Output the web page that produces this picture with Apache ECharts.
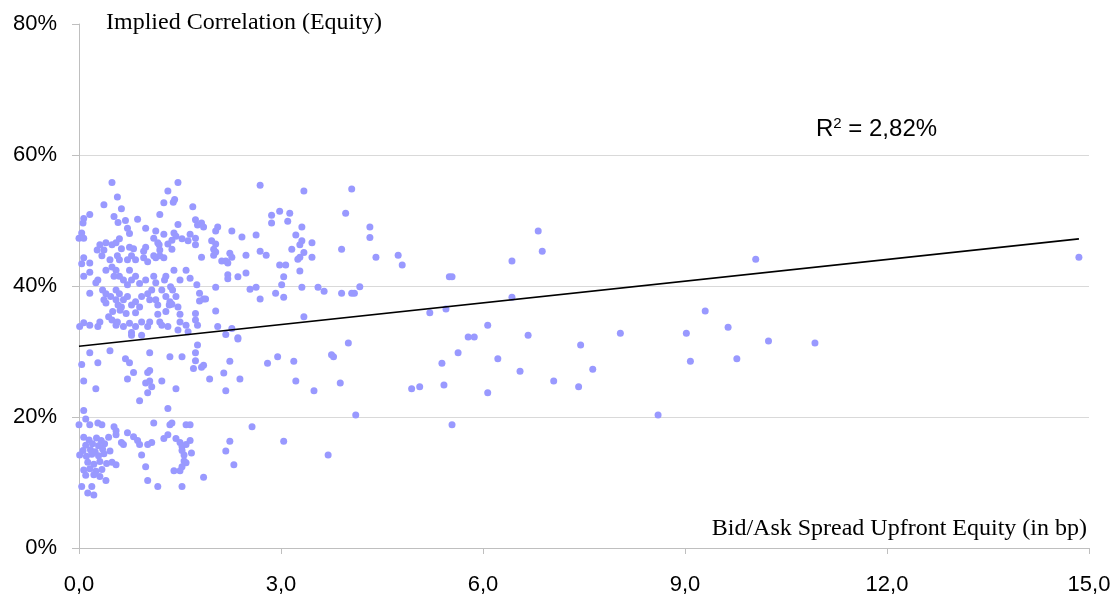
<!DOCTYPE html>
<html><head><meta charset="utf-8">
<script src="https://cdn.jsdelivr.net/npm/echarts@6/dist/echarts.min.js"></script>
<style>html,body{margin:0;padding:0;background:#fff}#c{width:1120px;height:598px}</style>
</head><body><div id="c"></div>
<script>
// [bid/ask spread (bp), implied correlation (%)]
const points = [
[0.49,55.8],[1.47,55.8],[0.57,53.6],[1.32,54.5],[0.37,52.4],[0.63,51.8],
[1.26,52.7],[1.40,52.8],[1.42,53.2],[1.69,52.1],[1.20,50.9],
[0.16,50.9],[0.07,50.3],[0.06,49.6],[0.52,50.6],[0.58,49.7],[0.69,50.0],[0.87,50.2],[1.47,49.4],
[0.72,48.8],[0.75,48.0],[0.99,48.8],[1.14,48.4],[1.26,47.9],[1.41,48.1],[1.44,47.6],[1.65,47.9],[1.73,50.1],
[0.04,48.1],[0.00,47.3],[0.07,47.3],[1.11,47.3],[1.17,46.6],[1.38,47.0],[1.53,47.2],[1.62,46.9],[1.73,46.3],
[0.60,47.2],[0.55,46.6],[0.49,46.3],[0.31,46.3],[0.40,46.6],[0.27,45.5],[0.37,45.5],[0.34,44.6],
[0.63,45.7],[0.75,45.9],[0.81,45.7],[0.99,45.9],[0.96,45.3],
[0.57,44.6],[0.46,44.0],[0.60,44.0],[0.72,44.0],[0.78,44.6],[0.84,44.0],[0.96,44.3],[1.02,43.7],[1.14,44.3],[1.20,44.6],[1.26,44.3],[1.11,44.6],
[1.20,45.5],[1.19,46.3],[1.32,46.4],[1.38,45.6],
[0.07,44.3],[0.04,43.4],[0.16,43.5],[0.07,41.5],[0.16,42.1],
[0.28,40.9],[0.25,40.5],[0.40,42.4],[0.49,42.9],[0.55,42.4],[0.60,41.5],[0.52,41.5],
[0.75,42.4],[0.66,40.9],[0.78,40.9],[0.84,41.5],[0.90,40.4],[0.72,40.2],
[0.99,40.9],[1.11,41.5],[1.14,40.5],[1.29,41.5],[1.27,40.9],[1.41,42.4],[1.59,42.4],[1.50,40.9],[1.65,41.2],[1.75,40.2],
[0.16,38.9],[0.35,39.4],[0.40,38.8],[0.37,37.9],[0.47,38.4],[0.40,37.4],
[0.55,39.4],[0.60,38.8],[0.55,37.9],[0.66,37.9],[0.63,36.8],[0.58,37.1],[0.72,38.4],[0.78,37.1],[0.84,37.6],[0.90,36.8],[0.93,38.4],[1.02,38.8],[1.05,37.9],[1.14,37.9],[1.17,37.1],[1.08,39.4],[1.23,39.4],[1.29,38.4],[1.35,37.6],[1.44,38.4],[1.34,37.1],[1.47,36.8],
[1.36,39.9],[1.39,39.4],
[0.07,34.4],[0.01,33.8],[0.16,34.0],[0.28,33.8],[0.31,34.5],[0.49,34.8],[0.55,34.0],[0.57,34.5],[0.66,33.8],[0.75,34.3],[0.78,32.9],[0.84,33.8],[0.93,34.5],[1.02,33.8],[1.05,34.5],[1.17,35.7],[1.20,34.5],[1.32,33.8],[1.23,34.0],[1.50,35.7],[1.50,34.5],[1.59,34.0],[1.62,33.0],[1.47,33.3],
[1.73,35.8],[1.73,34.8],[1.76,34.0],
[0.93,32.5],[0.78,32.5],
[0.50,36.1],[0.61,36.3],[0.70,35.8],[0.44,35.3],[0.84,35.9],[1.38,37.2],[1.29,36.1],
[0.16,29.8],[0.46,30.1],[0.04,28.0],[0.28,28.3],[0.07,25.5],[0.25,24.3],
[0.69,28.9],[0.75,28.3],[0.81,26.8],[0.72,25.8],[1.05,29.8],[1.02,26.8],[1.05,27.1],
[0.99,25.2],[1.05,25.5],[1.08,24.6],[1.02,23.7],[0.90,22.5],[1.23,25.5],[1.44,24.3],
[1.35,29.2],[1.53,29.2],[1.73,29.8],[1.73,28.6],[1.70,27.4],[1.32,21.3],
[0.07,21.0],[0.10,19.7],[0.00,18.8],[0.16,18.8],[0.28,19.1],[0.34,18.8],
[0.52,18.5],[0.55,17.9],[0.72,17.6],[1.11,19.1],[1.35,18.8],[1.38,19.1],[1.59,18.8],[1.65,18.8],
[0.55,17.3],
[0.81,17.0],[0.87,16.4],[0.90,15.8],[1.02,15.8],[1.08,16.1],[1.26,16.7],[1.32,17.3],[1.44,16.7],[1.50,16.1],[1.53,15.5],[1.59,15.8],[1.65,16.4],
[0.63,16.1],[0.66,15.8],[0.93,14.2],[0.99,12.4],[1.02,10.3],[1.17,9.4],[1.53,9.4],
[1.53,14.9],[1.56,14.2],[1.59,13.0],[1.53,12.4],[1.50,11.8],[1.41,11.8],[1.56,13.3],
[0.55,12.7],[0.40,10.3],
[0.07,16.9],[0.15,16.5],[0.26,16.8],[0.33,16.4],[0.44,16.9],
[0.10,15.7],[0.20,15.9],[0.29,15.6],[0.38,15.9],
[0.06,14.9],[0.17,15.0],[0.24,14.7],[0.35,15.1],[0.46,14.8],
[0.01,14.2],[0.11,14.0],[0.19,14.3],[0.29,14.1],[0.37,14.4],
[0.13,13.1],[0.22,12.8],[0.31,13.2],[0.41,12.9],[0.49,13.1],
[0.07,11.9],[0.16,12.1],[0.25,11.7],[0.34,12.0],
[0.10,11.1],[0.22,11.2],[0.31,10.9],
[0.04,9.4],[0.13,8.4],[0.22,8.1],[0.19,9.4],
[2.69,55.4],[3.34,54.5],[2.86,50.8],[2.86,49.6],[2.98,51.4],[3.13,51.1],[3.10,49.9],
[1.82,49.6],[1.76,49.3],[1.85,49.0],[2.06,49.0],[2.03,48.4],[2.27,48.4],[2.63,47.8],[2.42,47.5],
[1.73,47.3],
[1.97,46.9],[2.03,46.4],[2.00,45.6],[2.00,44.7],[2.03,45.2],[1.82,44.4],
[2.12,43.8],[2.18,43.8],[2.24,45.0],[2.27,44.4],[2.21,43.5],[2.48,44.7],[2.69,45.3],[2.78,44.7],
[3.31,49.0],[3.22,47.8],[3.31,46.9],[3.46,46.6],[3.28,46.3],[3.16,45.6],
[3.34,45.1],[3.28,44.4],[3.25,44.1],[3.46,44.4],
[2.98,43.2],[3.07,43.2],[3.04,41.4],[3.28,42.3],
[2.21,41.7],[2.21,41.1],[2.36,41.4],[2.48,42.0],
[1.79,38.9],[1.85,38.0],[1.79,37.7],[1.88,38.0],[2.03,39.8],[2.54,39.5],[2.63,39.8],[2.69,38.0],
[3.01,40.2],[2.92,38.9],[3.04,38.3],[3.31,39.8],[3.55,39.8],
[2.03,36.2],[2.06,33.8],[2.27,33.5],[2.18,32.6],[2.36,32.1],[3.34,35.3],
[1.76,31.0],[1.82,27.6],[1.85,27.9],[2.36,31.9],[2.24,28.5],[2.15,26.7],[1.94,25.8],[2.39,25.8],[2.18,24.0],
[2.80,28.2],[2.95,29.2],[3.19,28.5],[3.22,25.5],[2.57,18.5],[2.24,16.3],[1.67,14.5],[2.18,14.8],[2.30,12.7],[1.85,10.8],[3.04,16.3],
[4.05,54.8],[3.96,51.1],[4.32,49.0],[4.32,47.4],[3.90,45.6],[4.41,44.4],[4.74,44.7],[4.80,43.2],
[3.64,39.2],[3.90,38.9],[4.05,38.9],[4.09,38.9],[4.17,39.9],[5.50,41.4],[5.54,41.4],[6.43,43.8],[6.82,48.4],[6.88,45.3],[6.43,38.3],[5.21,35.9],[5.45,36.5],[6.07,34.0],
[3.49,24.0],[3.75,29.5],[3.78,29.2],[4.00,31.3],[3.88,25.2],[4.11,20.3],[3.70,14.2],[4.94,24.3],[5.06,24.6],[5.39,28.2],[5.42,24.9],[5.63,29.8],[5.78,32.2],[5.87,32.2],[5.54,18.8],[6.07,23.7],[6.22,28.9],[6.55,27.0],[6.67,32.5],[7.05,25.5],
[10.05,44.1],[14.85,44.4],[9.30,36.2],[9.64,33.7],[8.04,32.8],[9.02,32.8],[10.24,31.6],[10.93,31.3],[7.45,31.0],[7.63,27.3],[9.08,28.5],[9.77,28.9],[7.42,24.6],[8.60,20.3]
];
// linear trend line endpoints
const trendLine = [[0, 30.8], [14.85, 47.2]];
const xTicks = [0, 3, 6, 9, 12, 15];
const yTicks = [0, 20, 40, 60, 80];
const yTitle = 'Implied Correlation (Equity)';
const xTitle = 'Bid/Ask Spread Upfront Equity (in bp)';

const chart = echarts.init(document.getElementById('c'));
const axisGray = '#bfbfbf';
const gridGray = '#d9d9d9';
chart.setOption({
  animation: false,
  grid: { left: 79, right: 31, top: 24, bottom: 50, containLabel: false },
  xAxis: {
    type: 'value', min: xTicks[0], max: xTicks[xTicks.length - 1], interval: 3,
    axisLine: { lineStyle: { color: axisGray } },
    axisTick: { show: true, length: 6, lineStyle: { color: axisGray } },
    splitLine: { show: false },
    axisLabel: { color: '#000', fontFamily: 'Liberation Sans', fontSize: 22, margin: 26,
      formatter: v => v.toFixed(1).replace('.', ',') }
  },
  yAxis: {
    type: 'value', min: yTicks[0], max: yTicks[yTicks.length - 1], interval: 20,
    axisLine: { show: true, lineStyle: { color: axisGray } },
    axisTick: { show: true, length: 7, lineStyle: { color: axisGray } },
    splitLine: { lineStyle: { color: [gridGray, gridGray, gridGray, gridGray, 'rgba(0,0,0,0)'] } },
    axisLabel: { color: '#000', fontFamily: 'Liberation Sans', fontSize: 22, margin: 22,
      formatter: '{value}%' }
  },
  series: [
    { type: 'scatter', data: points, symbolSize: 7,
      itemStyle: { color: '#9999ff', opacity: 1 }, z: 2 },
    { type: 'line', data: trendLine, showSymbol: false, symbol: 'none',
      lineStyle: { color: '#000', width: 1.6 }, z: 3 }
  ],
  graphic: [
    { type: 'text', left: 106, top: 11,
      style: { text: yTitle, font: '24px "Liberation Serif"', fill: '#000' } },
    { type: 'text', right: 33, top: 517,
      style: { text: xTitle, font: '24px "Liberation Serif"', fill: '#000', textAlign: 'right' } },
    { type: 'text', left: 816, top: 116,
      style: {
        text: '{r|R}{s|2}{r| = 2,82%}',
        rich: {
          r: { fontFamily: 'Liberation Sans', fontSize: 24, fill: '#000', lineHeight: 26 },
          s: { fontFamily: 'Liberation Sans', fontSize: 15, fill: '#000', verticalAlign: 'top', lineHeight: 14 }
        }
      } }
  ]
});
</script>
</body></html>
